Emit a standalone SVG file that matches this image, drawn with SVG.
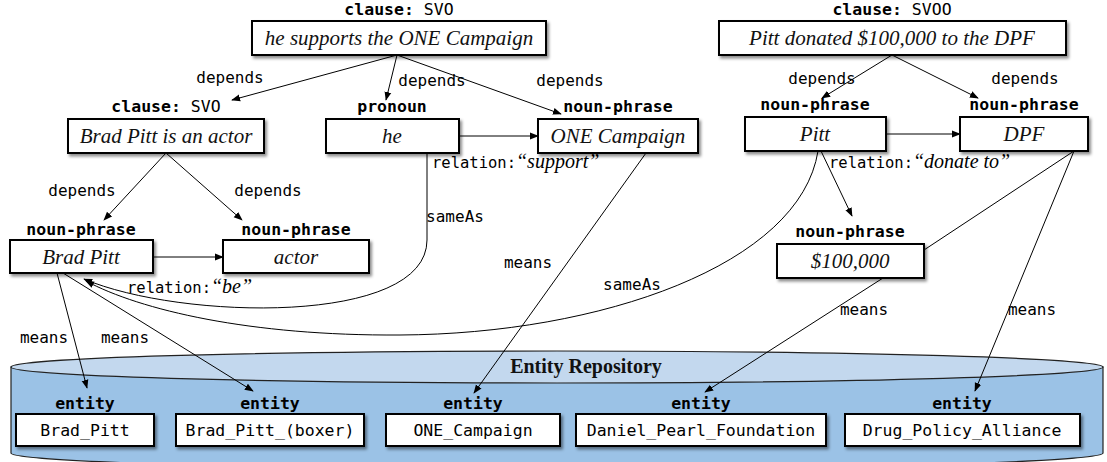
<svg xmlns="http://www.w3.org/2000/svg" width="1107" height="462" viewBox="0 0 1107 462">
<defs>
<style>
.box{fill:#fff;stroke:#000;stroke-width:2;filter:url(#sh)}
.bt{font-family:"Liberation Serif",serif;font-style:italic;font-size:21px;text-anchor:middle;fill:#111}
.tl{font-family:"DejaVu Sans Mono",monospace;font-weight:bold;font-size:16.5px;text-anchor:middle;fill:#000}
.tl tspan.n{font-weight:normal}
.el{font-family:"DejaVu Sans Mono",monospace;font-size:16px;text-anchor:middle;fill:#000}
.rl{font-family:"DejaVu Sans Mono",monospace;font-size:15.5px;fill:#000}
.rl tspan.q{font-family:"Liberation Serif",serif;font-style:italic;font-size:20px}
.et{font-family:"DejaVu Sans Mono",monospace;font-size:16.5px;text-anchor:middle;fill:#000}
.ln{fill:none;stroke:#000;stroke-width:1}
.ar{marker-end:url(#ah)}
</style>
<filter id="sh" x="-10%" y="-20%" width="130%" height="160%">
<feDropShadow dx="2" dy="2.5" stdDeviation="1.5" flood-color="#000" flood-opacity="0.45"/>
</filter>
<marker id="ah" viewBox="0 0 10 10" refX="9" refY="5" markerWidth="9" markerHeight="9" markerUnits="userSpaceOnUse" orient="auto">
<path d="M0,1.2 L10,5 L0,8.8 Z" fill="#000"/>
</marker>
</defs>
<rect width="1107" height="462" fill="#fff"/>

<g id="repository">
<path d="M11,367 L11,453 A546,16 0 0 0 1103,453 L1103,367 Z" fill="#9bc2e6" stroke="#222" stroke-width="1.2"/>
<ellipse cx="557" cy="367" rx="546" ry="16" fill="#c3d8ee" stroke="#222" stroke-width="1.2"/>
<text x="586" y="373" font-family="Liberation Serif,serif" font-weight="bold" font-size="20" text-anchor="middle" fill="#111">Entity Repository</text>
</g>

<g id="connectors">
<line class="ln ar" x1="397" y1="55" x2="232" y2="100"/>
<line class="ln ar" x1="397" y1="55" x2="386" y2="100"/>
<line class="ln ar" x1="397" y1="55" x2="561" y2="114"/>
<line class="ln ar" x1="892" y1="55" x2="822" y2="98"/>
<line class="ln ar" x1="892" y1="55" x2="978" y2="98"/>
<line class="ln ar" x1="166" y1="153" x2="104" y2="220"/>
<line class="ln ar" x1="166" y1="153" x2="242" y2="220"/>
<line class="ln ar" x1="459" y1="136" x2="538" y2="136"/>
<line class="ln ar" x1="886" y1="134" x2="960" y2="134"/>
<line class="ln ar" x1="153" y1="257" x2="223" y2="257"/>
<line class="ln ar" x1="821" y1="151" x2="852" y2="216"/>
<line class="ln" x1="1074" y1="151" x2="924" y2="250"/>
<path class="ln ar" d="M427,153 L427,240 C427,326 180,320 84,279"/>
<path class="ln ar" d="M818,151 C800,265 600,334 400,335 C250,336 140,310 86,281"/>
<line class="ln ar" x1="646" y1="153" x2="474" y2="393"/>
<line class="ln ar" x1="883" y1="278" x2="705" y2="392"/>
<line class="ln ar" x1="1074" y1="151" x2="975" y2="391"/>
<line class="ln ar" x1="57" y1="273" x2="87" y2="388"/>
<line class="ln ar" x1="63" y1="273" x2="253" y2="391"/>

<text class="el" x="230" y="83">depends</text>
<text class="el" x="432" y="86">depends</text>
<text class="el" x="570" y="86">depends</text>
<text class="el" x="822" y="84">depends</text>
<text class="el" x="1025" y="84">depends</text>
<text class="el" x="82" y="196">depends</text>
<text class="el" x="268" y="196">depends</text>
<text class="el" x="455" y="222">sameAs</text>
<text class="el" x="528" y="268">means</text>
<text class="el" x="632" y="290">sameAs</text>
<text class="el" x="864" y="315">means</text>
<text class="el" x="1032" y="315">means</text>
<text class="el" x="44" y="343">means</text>
<text class="el" x="125" y="343">means</text>
<text class="rl" x="432" y="168">relation:<tspan class="q">“support”</tspan></text>
<text class="rl" x="829" y="168">relation:<tspan class="q">“donate to”</tspan></text>
<text class="rl" x="127" y="293">relation:<tspan class="q">“be”</tspan></text>
</g>

<g id="n-clause1">
<text class="tl" x="399" y="15">clause:<tspan class="n"> SVO</tspan></text>
<rect class="box" x="252" y="21" width="294" height="34"/>
<text class="bt" x="399" y="45">he supports the ONE Campaign</text>
</g>
<g id="n-clause2">
<text class="tl" x="892" y="15">clause:<tspan class="n"> SVOO</tspan></text>
<rect class="box" x="719" y="21" width="347" height="34"/>
<text class="bt" x="892" y="45">Pitt donated $100,000 to the DPF</text>
</g>
<g id="n-clause3">
<text class="tl" x="166" y="112">clause:<tspan class="n"> SVO</tspan></text>
<rect class="box" x="68" y="119" width="196" height="34"/>
<text class="bt" x="166" y="143">Brad Pitt is an actor</text>
</g>
<g id="n-he">
<text class="tl" x="392" y="112">pronoun</text>
<rect class="box" x="326" y="119" width="133" height="34"/>
<text class="bt" x="392" y="143">he</text>
</g>
<g id="n-one">
<text class="tl" x="618" y="112">noun-phrase</text>
<rect class="box" x="538" y="119" width="160" height="34"/>
<text class="bt" x="618" y="143">ONE Campaign</text>
</g>
<g id="n-pitt">
<text class="tl" x="815" y="110">noun-phrase</text>
<rect class="box" x="745" y="117" width="141" height="34"/>
<text class="bt" x="815" y="141">Pitt</text>
</g>
<g id="n-dpf">
<text class="tl" x="1024" y="110">noun-phrase</text>
<rect class="box" x="960" y="117" width="128" height="34"/>
<text class="bt" x="1024" y="141">DPF</text>
</g>
<g id="n-bradpitt">
<text class="tl" x="81" y="235">noun-phrase</text>
<rect class="box" x="10" y="240" width="143" height="33"/>
<text class="bt" x="81" y="264">Brad Pitt</text>
</g>
<g id="n-actor">
<text class="tl" x="296" y="235">noun-phrase</text>
<rect class="box" x="223" y="240" width="146" height="33"/>
<text class="bt" x="296" y="264">actor</text>
</g>
<g id="n-money">
<text class="tl" x="850" y="237">noun-phrase</text>
<rect class="box" x="777" y="244" width="147" height="34"/>
<text class="bt" x="850" y="268">$100,000</text>
</g>

<g id="e-bradpitt">
<text class="tl" x="85" y="409">entity</text>
<rect class="box" x="16" y="414" width="138" height="32"/>
<text class="et" x="85" y="436">Brad_Pitt</text>
</g>
<g id="e-boxer">
<text class="tl" x="270" y="409">entity</text>
<rect class="box" x="176" y="414" width="188" height="32"/>
<text class="et" x="270" y="436">Brad_Pitt_(boxer)</text>
</g>
<g id="e-one">
<text class="tl" x="473" y="409">entity</text>
<rect class="box" x="386" y="414" width="174" height="32"/>
<text class="et" x="473" y="436">ONE_Campaign</text>
</g>
<g id="e-dpf">
<text class="tl" x="701" y="409">entity</text>
<rect class="box" x="576" y="414" width="250" height="32"/>
<text class="et" x="701" y="436">Daniel_Pearl_Foundation</text>
</g>
<g id="e-dpa">
<text class="tl" x="962" y="409">entity</text>
<rect class="box" x="845" y="414" width="235" height="32"/>
<text class="et" x="962" y="436">Drug_Policy_Alliance</text>
</g>
</svg>
